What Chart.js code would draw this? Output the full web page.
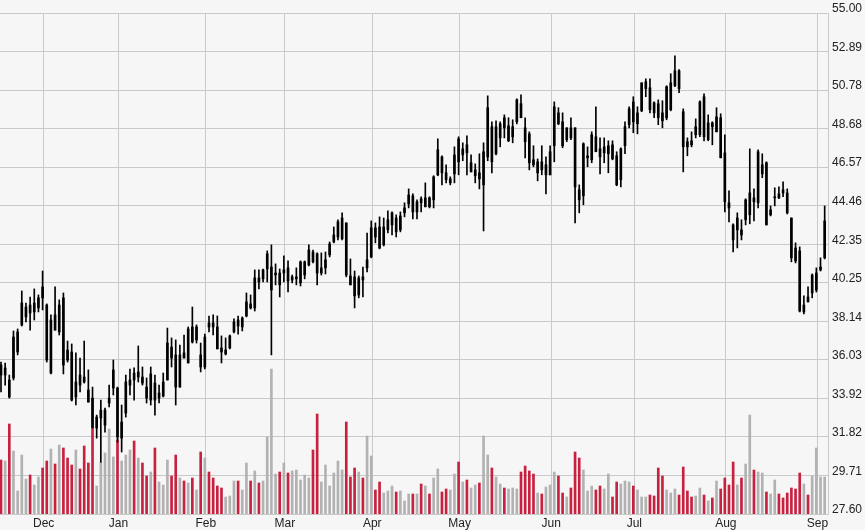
<!DOCTYPE html>
<html><head><meta charset="utf-8">
<script src="https://cdn.jsdelivr.net/npm/chart.js@4.4.0/dist/chart.umd.min.js"></script>
<style>html,body{margin:0;padding:0;background:#f6f6f6;} #wrap{width:865px;height:530px;position:relative;}</style>
</head><body><div id="wrap"><canvas id="c"></canvas></div>
<script>
const monthLabels = ['Dec','Jan','Feb','Mar','Apr','May','Jun','Jul','Aug','Sep'];
const monthStartIdx = [10,28,49,68,89,110,132,152,174,196];
const priceTicks = [55.00,52.89,50.78,48.68,46.57,44.46,42.35,40.25,38.14,36.03,33.92,31.82,29.71,27.60];

const open = [
35.75,35.20,34.93,35.04,36.46,37.94,38.38,39.03,38.65,38.87,
40.02,39.03,35.31,38.49,37.56,39.42,36.57,36.46,34.00,35.20,
35.09,34.38,33.94,32.30,32.85,32.46,33.67,34.49,34.49,31.75,
33.12,34.65,35.31,35.09,35.09,34.54,33.83,34.76,33.94,34.05,
34.93,36.73,36.30,34.54,36.41,35.86,37.83,37.12,36.30,35.64,
38.05,38.05,37.83,36.68,36.35,36.68,37.56,38.21,37.83,38.43,
39.09,38.87,40.51,40.46,41.00,39.85,40.67,40.78,40.78,41.06,
40.40,40.46,40.24,40.67,41.22,41.93,41.83,40.78,41.06,41.77,
42.48,42.75,42.65,43.52,40.62,40.57,39.58,40.57,41.06,41.66,
43.25,43.30,42.32,43.14,43.41,43.79,43.14,44.07,44.56,45.00,
44.12,44.84,44.40,44.89,44.78,46.15,47.13,46.26,45.71,46.20,
48.12,47.24,47.79,46.31,46.10,46.26,45.60,47.13,48.78,47.30,
48.17,49.27,48.01,48.23,49.05,50.04,48.72,48.39,46.97,46.26,
46.86,46.15,46.15,47.74,49.54,49.05,48.07,48.72,48.72,45.33,
45.00,47.08,46.97,48.23,47.57,47.35,47.30,47.79,47.19,45.88,
47.74,48.89,50.14,48.94,49.65,50.86,50.91,50.09,50.04,49.54,
49.27,49.71,51.02,51.84,49.60,47.96,48.01,48.34,48.34,50.42,
48.07,48.99,48.50,49.27,47.35,44.62,43.41,43.14,43.14,43.69,
43.96,44.89,44.62,46.20,46.81,43.96,44.89,45.11,45.33,45.16,
43.79,42.15,41.99,38.65,39.47,39.69,39.85,40.95,41.61];
const high = [
35.91,35.86,35.20,37.61,37.72,39.80,39.14,39.47,39.91,39.58,
40.89,39.09,38.49,40.02,39.31,39.69,37.06,36.90,36.41,36.13,
37.06,35.48,34.54,33.01,33.83,33.39,34.65,36.02,34.54,33.56,
35.20,35.53,35.59,36.79,35.64,35.04,35.64,35.20,34.65,35.31,
37.77,37.23,37.12,36.84,37.39,37.83,38.92,37.94,36.95,37.44,
38.43,38.49,38.43,37.34,37.23,37.39,38.27,38.43,38.38,39.69,
39.58,40.95,40.95,41.00,41.99,42.32,41.28,41.00,41.72,41.44,
40.67,41.06,41.44,41.44,42.32,42.04,41.88,41.88,41.93,42.48,
43.30,43.69,44.07,43.52,41.55,40.89,40.62,41.11,42.97,43.63,
43.52,43.85,43.79,44.18,44.12,43.96,44.12,44.62,45.38,45.11,
44.78,44.95,45.71,44.95,46.10,48.12,47.19,46.70,46.04,47.68,
48.23,47.90,48.28,47.24,46.75,47.30,47.90,50.47,49.05,49.10,
49.05,49.43,49.27,49.16,50.31,50.53,49.27,48.50,47.74,47.02,
47.74,47.13,47.74,50.14,49.82,49.54,48.72,49.27,48.72,45.60,
47.90,47.68,48.50,49.87,48.17,48.17,48.01,48.01,47.41,47.63,
49.05,49.87,50.42,49.87,51.18,51.40,51.40,50.14,50.25,50.20,
51.02,51.68,52.66,51.90,49.76,48.17,48.50,49.21,50.20,50.58,
49.43,49.05,49.82,49.49,48.34,45.27,43.47,44.07,43.69,44.84,
47.57,45.38,47.52,47.30,46.86,44.45,45.44,45.49,45.77,45.38,
43.79,42.43,42.21,39.53,40.02,40.73,41.06,41.61,44.45];
const low = [
34.27,34.65,33.94,34.93,36.30,37.88,38.10,37.66,38.21,38.65,
38.76,35.91,35.26,37.66,37.39,35.26,35.91,33.78,33.56,34.27,
34.76,33.72,32.30,31.75,30.44,32.08,33.45,34.11,31.53,30.99,
32.90,34.11,33.83,34.82,34.65,33.67,33.56,33.01,33.67,34.00,
34.93,35.64,33.56,34.54,36.13,35.86,36.95,36.95,35.37,35.53,
37.56,37.39,36.63,35.86,36.30,36.63,37.50,37.44,37.61,38.38,
38.81,38.70,39.91,40.29,40.29,36.30,40.13,39.47,40.29,39.74,
40.24,40.13,40.07,40.46,41.17,41.33,40.13,40.67,40.73,41.66,
42.43,42.59,42.59,40.57,40.13,38.87,39.42,39.47,40.84,41.61,
42.43,42.10,42.26,42.97,42.86,42.75,43.03,43.85,44.34,43.74,
43.74,44.12,44.40,44.34,44.34,46.10,45.60,45.71,45.60,45.71,
46.15,46.92,46.15,46.31,45.71,45.38,43.08,46.92,46.26,47.24,
47.68,48.17,47.96,47.90,48.94,49.27,47.08,46.42,46.59,45.82,
46.15,45.11,46.15,46.86,48.89,47.63,47.96,48.07,43.52,44.07,
44.51,46.59,46.81,47.41,46.20,46.81,46.26,46.97,45.55,45.49,
47.30,48.72,48.45,48.39,49.60,50.42,49.54,49.27,48.89,48.72,
49.16,49.65,50.97,50.64,46.31,47.19,47.68,48.17,48.23,48.01,
48.01,47.79,48.50,47.08,44.12,43.58,41.93,42.15,42.59,43.41,
43.47,43.63,44.34,45.99,43.41,43.90,44.45,44.84,44.95,44.01,
41.39,41.33,38.65,38.54,39.20,39.42,39.74,40.89,41.55];
const close = [
35.20,35.59,34.00,37.28,37.56,39.14,38.92,38.59,39.14,39.42,
39.42,36.02,38.21,37.66,39.03,35.75,36.02,33.83,34.82,34.65,
34.82,33.72,32.35,32.90,33.28,33.28,33.94,35.48,31.81,32.63,
34.82,34.93,34.93,35.37,34.76,33.94,35.26,33.83,34.22,34.82,
36.95,36.13,34.54,36.30,36.13,37.72,37.01,37.83,35.64,37.28,
37.83,37.83,36.63,36.46,36.57,37.34,38.10,37.88,38.32,39.20,
38.87,40.51,40.29,40.95,41.83,41.11,40.78,40.13,40.95,40.35,
40.57,40.57,41.39,41.39,42.04,41.39,40.78,41.06,41.50,42.37,
42.86,43.58,43.79,40.67,40.13,39.53,40.51,40.40,41.50,43.25,
42.75,42.15,43.30,43.69,44.07,43.03,43.90,44.34,45.05,44.12,
44.67,44.62,44.89,44.40,46.04,47.52,46.26,45.88,45.93,47.24,
46.86,47.57,47.35,46.81,46.42,45.93,47.41,49.82,46.86,48.78,
48.94,48.72,48.83,48.78,50.25,49.27,47.96,46.81,46.70,46.86,
46.42,46.70,47.41,49.87,48.94,47.74,48.72,48.17,45.49,44.78,
47.85,47.19,48.34,47.41,47.13,47.68,47.74,47.02,45.60,47.57,
48.78,49.76,49.05,49.54,51.18,51.24,49.71,49.54,49.27,49.10,
50.97,51.18,51.84,50.86,47.68,47.68,47.79,48.78,50.14,48.23,
48.99,48.78,49.32,47.08,44.67,44.34,42.59,43.79,42.86,44.78,
45.16,44.67,47.41,46.70,43.41,44.23,44.95,44.89,45.16,44.07,
41.61,41.44,38.70,39.03,39.20,40.67,40.78,41.11,43.63];
// volume in 100k shares
const volume = [
54,53,90,63,23,59,35,39,29,37,46,53,65,50,69,66,56,49,64,45,68,51,87,28,52,61,85,57,74,
53,59,64,73,56,51,38,42,66,32,29,54,38,59,36,33,31,36,24,62,56,42,36,28,26,17,18,33,
33,24,51,33,43,31,33,77,145,40,42,51,41,43,44,34,39,36,64,100,32,49,28,41,53,44,92,37,46,
42,36,78,58,24,32,21,23,28,22,23,13,20,20,20,30,28,20,36,45,22,25,24,40,52,32,34,26,
29,31,78,59,46,37,30,26,25,26,25,42,48,43,40,21,20,27,29,42,38,21,17,26,62,56,44,23,
28,24,28,25,40,17,32,30,33,32,28,24,17,17,19,18,46,38,24,21,25,19,47,23,17,18,26,19,13,
16,33,25,36,29,52,29,36,50,99,44,42,41,22,20,34,20,16,21,26,25,41,30,19,38,66,37,37];

const idx = open.map((_, i) => i);
const wickData = idx.map(i => ({x: i, y: [low[i], high[i]]}));
const bodyData = idx.map(i => ({x: i, y: [Math.min(open[i], close[i]), Math.max(open[i], close[i])]}));
const volData = idx.map(i => ({x: i, y: volume[i]}));
const volColors = idx.map(i => close[i] < open[i] ? '#c8203f' : '#b2b2b2');

const FONT = {family: '"Liberation Sans", Arial, Helvetica, sans-serif', size: 12};
const GRID = '#c9c9c9';

new Chart(document.getElementById('c'), {
  type: 'bar',
  data: {
    datasets: [
      {label: 'Volume', data: volData, backgroundColor: volColors, barThickness: 2, yAxisID: 'yv', order: 3},
      {label: 'Range', data: wickData, backgroundColor: '#000', barThickness: 1, yAxisID: 'y', order: 2},
      {label: 'Body', data: bodyData, backgroundColor: '#000', barThickness: 2, yAxisID: 'y', order: 1}
    ]
  },
  options: {
    responsive: true,
    maintainAspectRatio: false,
    animation: false,
    datasets: {bar: {grouped: false, borderWidth: 0}},
    layout: {padding: {top: 13, left: 0, right: 0, bottom: 0}},
    plugins: {legend: {display: false}, tooltip: {enabled: false}},
    scales: {
      x: {
        type: 'linear', min: -0.24, max: 198.8, offset: false,
        grid: {color: GRID, drawTicks: false, offset: false},
        border: {display: false},
        ticks: {autoSkip: false, maxRotation: 0, padding: 2, color: '#222', font: FONT,
                callback: (v, i) => monthLabels[i]},
        afterBuildTicks: s => { s.ticks = monthStartIdx.map(v => ({value: v + 0.25})); },
        afterFit: s => { s.height = 16; }
      },
      y: {
        type: 'linear', position: 'right', min: 27.6, max: 55,
        grid: {color: GRID, drawTicks: false},
        border: {display: true, color: GRID},
        ticks: {padding: 4, labelOffset: -4, color: '#222', font: FONT,
                callback: v => Number(v).toFixed(2)},
        afterBuildTicks: s => { s.ticks = priceTicks.map(v => ({value: v})); },
        afterFit: s => { s.width = 37; }
      },
      yv: {type: 'linear', display: false, min: 0, max: 501}
    }
  }
});
</script></body></html>
